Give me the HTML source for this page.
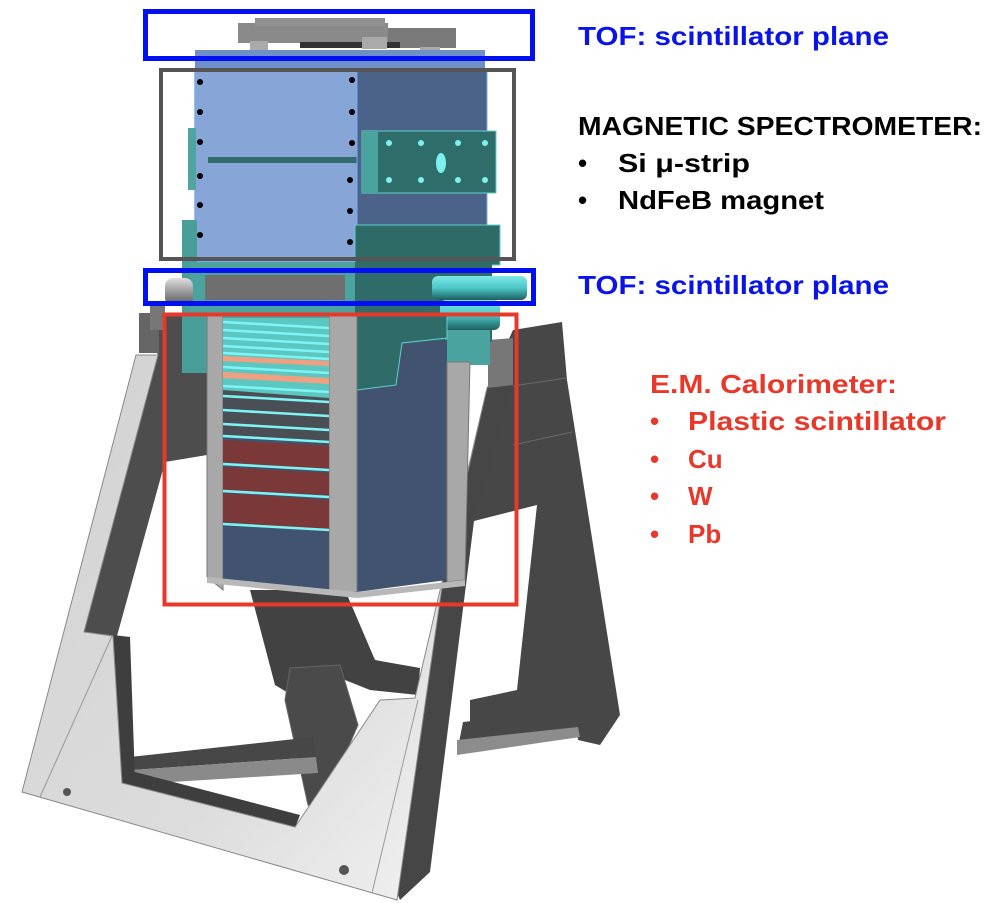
<!DOCTYPE html>
<html><head><meta charset="utf-8"><style>
html,body{margin:0;padding:0;background:#fff;}
svg{display:block;}
text{font-family:"Liberation Sans",Arial,sans-serif;font-weight:bold;font-size:26px;}
</style></head><body>
<svg width="1002" height="903" viewBox="0 0 1002 903" xmlns="http://www.w3.org/2000/svg">
<defs>
<linearGradient id="lg" x1="0" y1="0" x2="1" y2="1"><stop offset="0" stop-color="#d2d2d2"/><stop offset="0.6" stop-color="#dcdcdc"/><stop offset="1" stop-color="#f4f4f4"/></linearGradient>
<linearGradient id="cyl" x1="0" y1="0" x2="0" y2="1"><stop offset="0" stop-color="#7fe8e8"/><stop offset="0.5" stop-color="#4cc6c6"/><stop offset="1" stop-color="#1d5e5e"/></linearGradient>
<linearGradient id="gcyl" x1="0" y1="0" x2="0" y2="1"><stop offset="0" stop-color="#e0e0e0"/><stop offset="0.5" stop-color="#9a9a9a"/><stop offset="1" stop-color="#555"/></linearGradient>
</defs>

<!-- back frame pieces -->
<polygon points="487,388 513,330 562,322 567,380 620,715 600,745 578,740 575,716 470,740 470,700 517,690 537,505 474,521" fill="#474747"/>
<line x1="513" y1="386" x2="566" y2="378" stroke="#6a6a6a" stroke-width="1"/>
<line x1="513" y1="445" x2="572" y2="432" stroke="#6a6a6a" stroke-width="1"/>
<polygon points="463,722 577,710 580,737 457,753" fill="#474747"/>
<polygon points="457,740 578,727 580,737 457,755" fill="#8c8c8c"/>
<polygon points="488,340 513,338 513,386 488,388" fill="#777"/>
<!-- center back -->
<polygon points="250,590 345,590 375,660 420,668 418,695 370,690 345,680 300,700 275,685" fill="#424242"/>
<polygon points="290,668 340,665 358,725 320,812 308,805 285,700" fill="#4a4a4a" stroke="#666" stroke-width="1"/>
<!-- left back crossbar -->
<polygon points="130,757 313,737 316,757 133,770" fill="#474747"/>
<polygon points="133,770 316,757 318,773 123,785" fill="#8a8a8a"/>
<!-- left upper dark -->
<polygon points="139,313 183,313 207,350 207,455 165,462 117,636 84,632 158,355" fill="#4d4d4d"/>
<rect x="139" y="313" width="20" height="40" fill="#666"/>
<!-- inner thickness dark of front frame -->
<polygon points="113,635 130,637 135,780 122,783" fill="#3e3e3e"/>
<polygon points="122,783 135,772 300,815 295,828" fill="#3e3e3e"/>
<!-- right front dark leg -->
<polygon points="487,388 513,385 474,521 430,872 400,900 397,893 443,580" fill="#464646"/>
<!-- front light frame -->
<polygon points="136,355 158,355 84,632 113,636 122,783 295,827 320,790 380,700 415,698 487,388 443,580 397,900 22,792" fill="url(#lg)" stroke="#888" stroke-width="1"/>
<line x1="40" y1="797" x2="112" y2="636" stroke="#999" stroke-width="1"/>
<line x1="418" y1="700" x2="372" y2="893" stroke="#999" stroke-width="1"/>
<circle cx="67" cy="792" r="4" fill="#555"/><circle cx="344" cy="870" r="5" fill="#555"/>

<!-- TOF top -->
<rect x="238" y="23" width="150" height="20" fill="#8a8a8a"/>
<rect x="255" y="18" width="130" height="8" fill="#909090"/>
<rect x="388" y="28" width="68" height="20" fill="#7a7a7a"/>
<rect x="300" y="42" width="100" height="6" fill="#333"/>
<rect x="250" y="41" width="18" height="12" fill="#aaa"/>
<rect x="362" y="37" width="25" height="12" fill="#aaa"/>
<rect x="420" y="47" width="20" height="10" fill="#aaa"/>

<!-- magnet block -->
<rect x="195" y="50" width="290" height="22" fill="#6f8fc8"/>
<rect x="195" y="70" width="162" height="192" fill="#87a5d6" stroke="#7aa8ee" stroke-width="1.5"/>
<rect x="208" y="157" width="150" height="6" fill="#2f6b68"/>
<rect x="357" y="70" width="130" height="160" fill="#4b6389" stroke="#7aa8ee" stroke-width="1"/>
<rect x="362" y="131" width="134" height="62" fill="#2f6d6b" stroke="#5fd0cc" stroke-width="1"/>
<rect x="362" y="131" width="16" height="62" fill="#4aa39e"/>
<rect x="355" y="225" width="145" height="40" fill="#2e6a66" stroke="#5fd0cc" stroke-width="1"/>
<rect x="188" y="128" width="8" height="62" fill="#4fa6a0"/>
<rect x="182" y="220" width="15" height="110" fill="#4a9e99"/>
<g fill="#000">
<circle cx="200" cy="82" r="3"/><circle cx="200" cy="112" r="3"/><circle cx="200" cy="142" r="3"/><circle cx="200" cy="176" r="3"/><circle cx="200" cy="205" r="3"/><circle cx="200" cy="235" r="3"/>
<circle cx="352" cy="80" r="3"/><circle cx="352" cy="112" r="3"/><circle cx="352" cy="143" r="3"/><circle cx="350" cy="180" r="3"/><circle cx="350" cy="211" r="3"/><circle cx="350" cy="242" r="3"/>
</g>
<g fill="#7ef0ee">
<circle cx="389" cy="143" r="3"/><circle cx="421" cy="143" r="3"/><circle cx="458" cy="143" r="3"/><circle cx="485" cy="143" r="3"/>
<circle cx="389" cy="180" r="3"/><circle cx="421" cy="180" r="3"/><circle cx="458" cy="180" r="3"/><circle cx="485" cy="180" r="3"/>
<ellipse cx="441" cy="163" rx="5" ry="10"/>
</g>
<!-- lower TOF region -->
<rect x="190" y="262" width="167" height="58" fill="#4aa39e"/>
<rect x="205" y="275" width="140" height="25" fill="#6f6f6f"/>
<rect x="355" y="262" width="137" height="80" fill="#2f6b69"/>
<rect x="432" y="276" width="95" height="24" rx="6" fill="url(#cyl)"/>
<rect x="165" y="278" width="28" height="28" rx="8" fill="url(#gcyl)"/>
<rect x="150" y="305" width="15" height="25" fill="#777"/>
<rect x="182" y="313" width="26" height="60" fill="#4a9e99"/>
<rect x="445" y="320" width="45" height="45" fill="#4aa39e"/>
<rect x="440" y="300" width="60" height="30" rx="6" fill="url(#cyl)"/>

<!-- calorimeter -->
<polygon points="357,345 447,340 447,580 357,592" fill="#41536e"/>
<polygon points="357,315 447,315 447,338 402,343 396,385 357,390" fill="#2f6b69" stroke="#5fd0cc" stroke-width="1"/>
<polygon points="447,362 470,362 465,580 447,582" fill="#a8a8a8" stroke="#777" stroke-width="1"/>
<polygon points="207,315 223,315 223,590 207,577" fill="#a8a8a8" stroke="#777" stroke-width="1"/>
<polygon points="329,315 357,315 357,592 329,592" fill="#a8a8a8" stroke="#777" stroke-width="1"/>
<polygon points="223,318 329,318 329,590 223,580" fill="#41536e"/>
<g>
<polygon points="223,318 329,318 329,400 223,392" fill="#5cc6c1"/>
<polygon points="223,390 329,398 329,445 223,435" fill="#4a4e55"/>
<polygon points="223,440 329,446 329,470 223,462" fill="#7a3838"/>
<polygon points="223,467 329,473 329,495 223,490" fill="#7a3838"/>
<polygon points="223,493 329,500 329,530 223,522" fill="#7a3838"/>
<polygon points="223,356 329,361 329,366 223,361" fill="#f0a080"/>
<polygon points="223,372 329,378 329,384 223,378" fill="#f0a080"/>
</g>
<g stroke="#7ff4f4" stroke-width="2.5">
<line x1="223" y1="322" x2="329" y2="328"/><line x1="223" y1="330" x2="329" y2="336"/><line x1="223" y1="338" x2="329" y2="344"/><line x1="223" y1="346" x2="329" y2="352"/><line x1="223" y1="353" x2="329" y2="359"/>
<line x1="223" y1="367" x2="329" y2="373"/><line x1="223" y1="386" x2="329" y2="392"/><line x1="223" y1="396" x2="329" y2="402"/>
<line x1="223" y1="410" x2="329" y2="416"/><line x1="223" y1="424" x2="329" y2="430"/><line x1="223" y1="436" x2="329" y2="442"/>
<line x1="223" y1="464" x2="329" y2="470"/><line x1="223" y1="491" x2="329" y2="497"/><line x1="223" y1="524" x2="329" y2="530"/>
</g>
<polygon points="207,577 357,592 357,598 207,583" fill="#b8b8b8"/>
<polygon points="357,592 465,580 465,586 357,598" fill="#b8b8b8"/>

<!-- boxes -->
<rect x="145.5" y="11.5" width="387" height="47" fill="none" stroke="#0010f0" stroke-width="5"/>
<rect x="161" y="70" width="353" height="189" fill="none" stroke="#555" stroke-width="4"/>
<rect x="145.5" y="270.5" width="388" height="33" fill="none" stroke="#0010f0" stroke-width="5"/>
<rect x="164.5" y="314.5" width="352" height="290" fill="none" stroke="#e8382a" stroke-width="4"/>

<!-- labels -->
<text x="578" y="45" fill="#0a14e6" textLength="311" lengthAdjust="spacingAndGlyphs">TOF: scintillator plane</text>
<text x="578" y="135" fill="#000" textLength="404" lengthAdjust="spacingAndGlyphs">MAGNETIC SPECTROMETER:</text>
<text x="578" y="172" fill="#000">•</text><text x="618" y="172" fill="#000" textLength="132" lengthAdjust="spacingAndGlyphs">Si  μ-strip</text>
<text x="578" y="209" fill="#000">•</text><text x="618" y="209" fill="#000" textLength="206" lengthAdjust="spacingAndGlyphs">NdFeB magnet</text>
<text x="578" y="294" fill="#0a14e6" textLength="311" lengthAdjust="spacingAndGlyphs">TOF: scintillator plane</text>
<text x="650" y="393" fill="#e8382a" textLength="247" lengthAdjust="spacingAndGlyphs">E.M. Calorimeter:</text>
<text x="650" y="430" fill="#e8382a">•</text><text x="688" y="430" fill="#e8382a" textLength="258" lengthAdjust="spacingAndGlyphs">Plastic scintillator</text>
<text x="650" y="468" fill="#e8382a">•</text><text x="688" y="468" fill="#e8382a">Cu</text>
<text x="650" y="505" fill="#e8382a">•</text><text x="688" y="505" fill="#e8382a">W</text>
<text x="650" y="543" fill="#e8382a">•</text><text x="688" y="543" fill="#e8382a">Pb</text>
</svg>
</body></html>
